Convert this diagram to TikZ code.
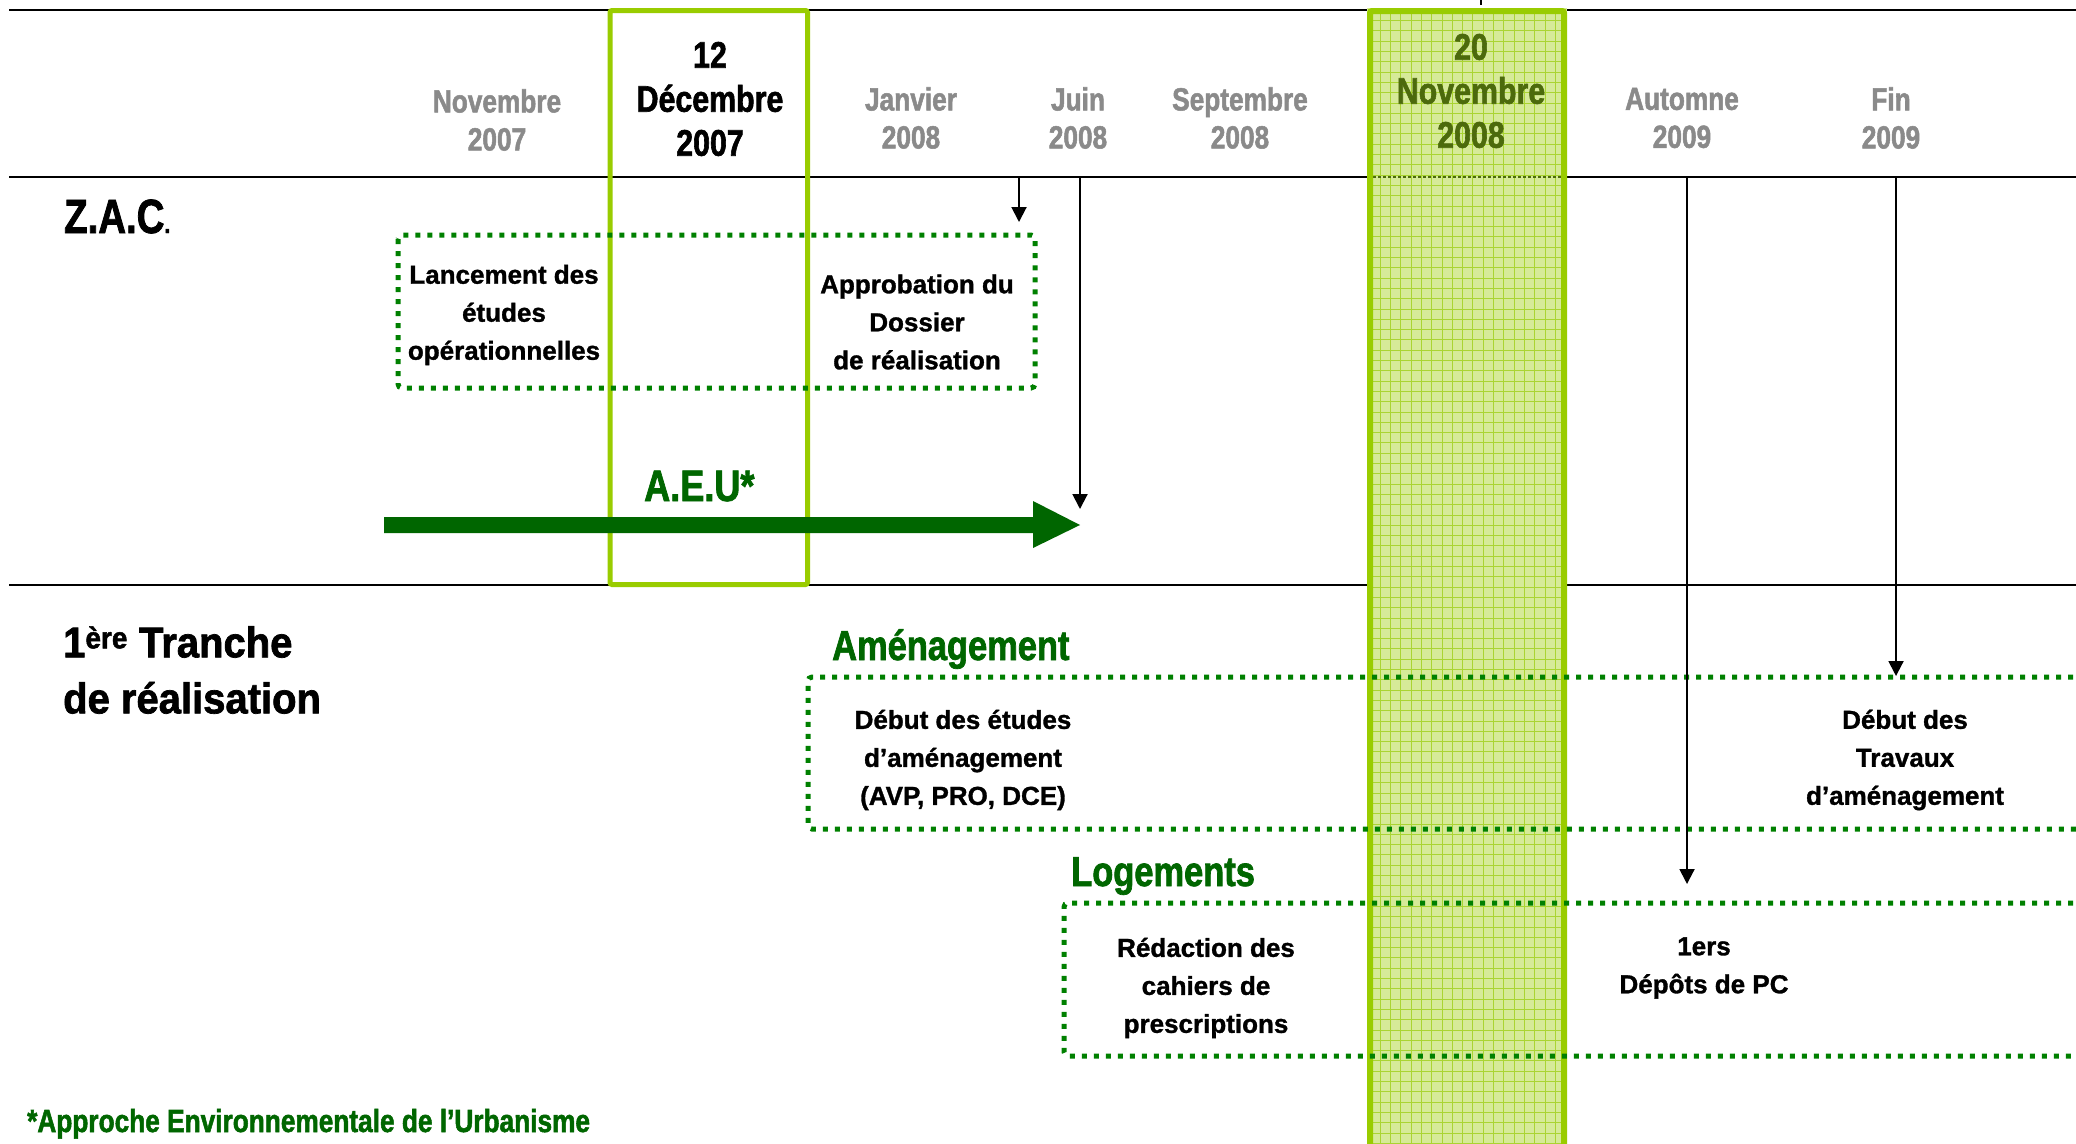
\documentclass[tikz,border=0pt]{standalone}
\usepackage{fontspec}
\setmainfont{Liberation Sans}[BoldFeatures={FakeBold=1.2}]
\newfontfamily\condf{Liberation Sans}[FakeStretch=0.82, BoldFeatures={FakeBold=1.6}]
\newfontfamily\zacf{Liberation Sans}[FakeStretch=0.8, BoldFeatures={FakeBold=1.6}]
\newfontfamily\tranchef{Liberation Sans}[FakeStretch=0.93, BoldFeatures={FakeBold=1.6}]
\usetikzlibrary{arrows.meta}

\definecolor{hdrgray}{RGB}{138,138,138}
\definecolor{dkgreen}{RGB}{0,102,0}
\definecolor{dotgreen}{RGB}{0,128,0}
\definecolor{lime}{RGB}{153,204,0}
\definecolor{bandfill}{RGB}{214,234,152}
\definecolor{bandgrid}{RGB}{170,212,50}
\definecolor{olive}{RGB}{76,106,12}

\newcommand\fsz[2]{\fontsize{#1}{#2}\selectfont}

\begin{document}
\begin{tikzpicture}[x=1pt,y=-1pt,
  hdr/.style={font=\condf\bfseries\fsz{32}{38}, text=hdrgray, align=center, inner sep=0pt},
  keydate/.style={font=\condf\bfseries\fsz{37}{44}, align=center, inner sep=0pt},
  body/.style={font=\bfseries\fsz{26}{38}, align=center, inner sep=0pt},
  phase/.style={font=\condf\bfseries\fsz{42}{48}, text=dkgreen, anchor=base west, inner sep=0pt},
  dotbox/.style={draw=dotgreen, line width=5pt, dash pattern=on 5pt off 7pt, rounded corners=4pt},
  rule/.style={line width=2.5pt},
  pin/.style={line width=2pt, -{Triangle[length=15pt,width=15pt]}}]

\useasboundingbox (0,0) rectangle (2076,1143);
\fill[white] (0,0) rectangle (2076,1143);

% horizontal rules of the timeline table
\draw[line width=2pt] (9,10) -- (2076,10);
\draw[rule] (9,177) -- (2076,177);
\draw[rule] (9,585) -- (2076,585);

% key date band: 20 Novembre 2008
\fill[bandfill] (1367,8) rectangle (1567,1143);
\begin{scope}
  \clip (1370,11) rectangle (1564,1143);
  \draw[bandgrid, line width=0.9pt, step=10.3pt] (1360,0) grid (1570,1150);
\end{scope}
\draw[olive, line width=1.5pt, dash pattern=on 3pt off 2pt] (1373,177) -- (1561,177);
\draw[lime, line width=6pt, rounded corners=2pt] (1370,1150) -- (1370,11) -- (1564,11) -- (1564,1150);

% key date frame: 12 Décembre 2007
\draw[lime, line width=5pt, rounded corners=2pt] (610,10.5) rectangle (807.5,584.5);

% dotted phase boxes
\draw[dotbox] (398,235) rectangle (1035,388);
\draw[dotbox] (2085,677) -- (808,677) -- (808,829) -- (2085,829);
\draw[dotbox] (2085,903) -- (1064,903) -- (1064,1056) -- (2085,1056);

% A.E.U arrow
\fill[dkgreen] (384,517) -- (1033,517) -- (1033,501) -- (1080,525)
  -- (1033,548) -- (1033,533) -- (384,533) -- cycle;

% header dates
\node[hdr] (nov07) at (497,120) {Novembre\\2007};
\node[keydate] (dec07) at (710,99) {12\\Décembre\\2007};
\node[hdr] (jan08) at (911,118) {Janvier\\2008};
\node[hdr] (jun08) at (1078,118) {Juin\\2008};
\node[hdr] (sep08) at (1240,118) {Septembre\\2008};
\node[keydate, text=olive] (nov08) at (1471,91) {20\\Novembre\\2008};
\node[hdr] (aut09) at (1682,118) {Automne\\2009};
\node[hdr] (fin09) at (1891,118) {Fin\\2009};

% row titles
\node[font=\zacf\bfseries\fsz{48}{52}, anchor=base west, inner sep=0pt] (zac) at (64,233)
  {Z.A.C{\fsz{26}{26}.}};
\node[font=\tranchef\bfseries\fsz{43}{56}, align=left, anchor=west, inner sep=0pt] (tranche) at (63,670)
  {1\textsuperscript{ère} Tranche\\de réalisation};

% phase labels
\node[phase, font=\condf\bfseries\fsz{44}{48}] (aeu) at (644,501) {A.E.U*};
\node[phase] (amen) at (832,660) {Aménagement};
\node[phase] (loge) at (1071,886) {Logements};

% box contents
\node[body] (lanc) at (504,315) {Lancement des\\études\\opérationnelles};
\node[body] (appr) at (917,322) {Approbation du\\Dossier\\de réalisation};
\node[body] (detu) at (963,760) {Début des études\\d’aménagement\\(AVP, PRO, DCE)};
\node[body] (dtra) at (1905,760) {Début des\\Travaux\\d’aménagement};
\node[body] (reda) at (1206,988) {Rédaction des\\cahiers de\\prescriptions};
\node[body] (depo) at (1704,968) {1ers\\Dépôts de PC};

% milestone pins
\coordinate (pA0) at (1019,177); \coordinate (pA1) at (1019,222);
\coordinate (pB0) at (1080,177); \coordinate (pB1) at (1080,509);
\coordinate (pC0) at (1687,177); \coordinate (pC1) at (1687,884);
\coordinate (pD0) at (1896,177); \coordinate (pD1) at (1896,676);
\draw[pin] (pA0) -- (pA1);
\draw[pin] (pB0) -- (pB1);
\draw[pin] (pC0) -- (pC1);
\draw[pin] (pD0) -- (pD1);
\coordinate (stubA) at (1481,0); \coordinate (stubB) at (1481,5);
\draw[line width=1.5pt] (stubA) -- (stubB);

% footnote
\node[font=\condf\bfseries\fsz{32}{36}, text=dkgreen, anchor=base west, inner sep=0pt] (foot) at (27,1132)
  {*Approche Environnementale de l’Urbanisme};

\end{tikzpicture}
\end{document}
